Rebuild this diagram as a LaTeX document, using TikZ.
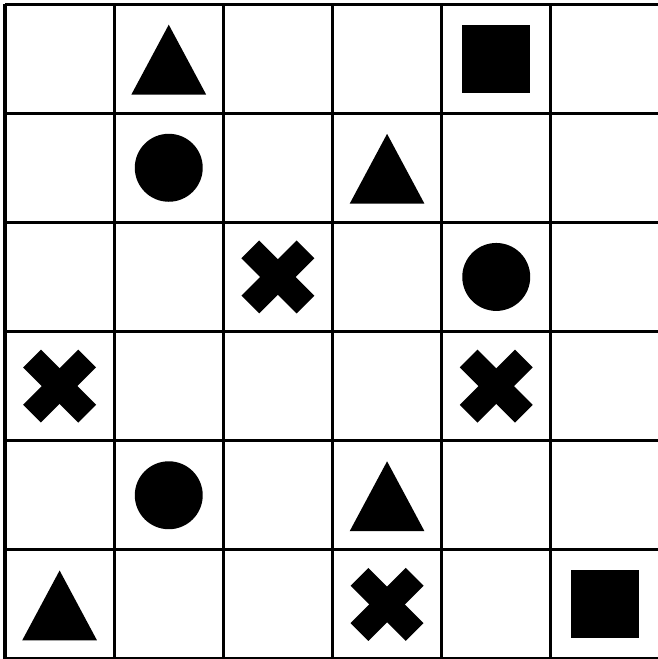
\documentclass[tikz,border=0pt]{standalone}
\usepackage{tikz}
\usetikzlibrary{shapes.geometric, positioning}

\begin{document}
\begin{tikzpicture}[x=2cm, y=2cm,
		triangulo/.style={isosceles triangle, isosceles triangle stretches, shape border rotate=90, fill=black, inner sep=0pt, minimum width=1.37cm, minimum height=1.28cm, anchor=apex},
		circulo/.style={circle, fill=black, inner sep=0pt, minimum size=1.245cm},
		cuadrado/.style={rectangle, fill=black, inner sep=0pt, minimum size=1.245cm},
		brazo/.style={rectangle, fill=black, inner sep=0pt, minimum width=1.43cm, minimum height=0.46cm}]
		\useasboundingbox (-0.046,0) rectangle (5.98,6.037);
		% Cuadricula de 6x6
		\draw[line width=1.6pt, step=2cm] (0,0) grid (6,6);
		% Triangulos
		\node[triangulo] (t1) at (1.5,5.82) {};
		\node[triangulo] (t2) at (3.5,4.82) {};
		\node[triangulo] (t3) at (3.5,1.82) {};
		\node[triangulo] (t4) at (0.5,0.82) {};
		% Circulos
		\node[circulo] (c1) at (1.5,4.5) {};
		\node[circulo] (c2) at (4.5,3.5) {};
		\node[circulo] (c3) at (1.5,1.5) {};
		% Cuadrados
		\node[cuadrado] (s1) at (4.5,5.5) {};
		\node[cuadrado] (s2) at (5.5,0.5) {};
		% Cruces (dos brazos girados)
		\node[brazo, rotate=45] (x1a) at (2.5,3.5) {};
		\node[brazo, rotate=-45] (x1b) at (2.5,3.5) {};
		\node[brazo, rotate=45] (x2a) at (0.5,2.5) {};
		\node[brazo, rotate=-45] (x2b) at (0.5,2.5) {};
		\node[brazo, rotate=45] (x3a) at (4.5,2.5) {};
		\node[brazo, rotate=-45] (x3b) at (4.5,2.5) {};
		\node[brazo, rotate=45] (x4a) at (3.5,0.5) {};
		\node[brazo, rotate=-45] (x4b) at (3.5,0.5) {};
	\end{tikzpicture}
\end{document}
